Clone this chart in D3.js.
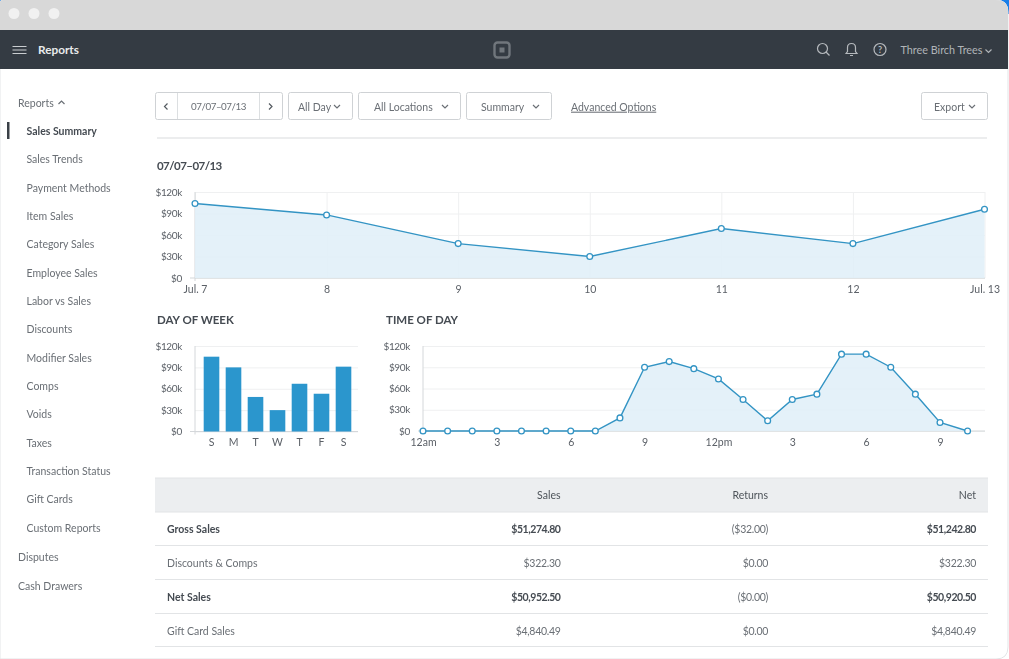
<!DOCTYPE html>
<html>
<head>
<meta charset="utf-8">
<script src="https://cdn.jsdelivr.net/npm/d3@7"></script>
<style>
  html, body { margin: 0; padding: 0; background: #fff; overflow: hidden; }
  svg { display: block; filter: blur(0.3px); }
  text { font-family: Lato, "Open Sans", sans-serif; }
  .axis text { font-size: 10.5px; fill: #5b6067; }
  .axis.y text { font-size: 10px; letter-spacing: -0.35px; }
  .axis .domain { display: none; }
</style>
</head>
<body>
<div class="page"></div>
<script>
const WIDTH = 1009;
const HEIGHT = 659;

const LINE_COLOR = '#3394c4';
const AREA_COLOR = '#e2f0f8';
const BAR_COLOR = '#2b96cd';
const GRID_COLOR = '#eff0f1';
const BASE_COLOR = '#d4d7da';
const TEXT_DARK = '#454b52';
const TEXT_MID = '#6a6f75';

// chart data, in thousands of dollars
var moneyTicks = [0, 30, 60, 90, 120];
var weekDays = ['Jul. 7', '8', '9', '10', '11', '12', 'Jul. 13'];
var weekSales = [104, 88, 48, 30, 69, 48, 96];
var dayNames = ['S', 'M', 'T', 'W', 'T', 'F', 'S'];
var daySales = [105, 90, 48.5, 30, 67, 53, 91];
var hours = [0, 1, 2, 3, 4, 5, 6, 7, 8, 9, 10, 11, 12, 13, 14, 15, 16, 17, 18, 19, 20, 21, 22.12];
var hourSales = [0, 0, 0, 0, 0, 0, 0, 0, 18.5, 90, 98, 88, 73.5, 44.5, 14.5, 44.5, 52, 108.5, 108.5, 90, 52, 12, 0];
var hourTicks = [0, 3, 6, 9, 12, 15, 18, 21];
var hourLabels = ['12am', '3', '6', '9', '12pm', '3', '6', '9'];

// table and menu text
var tableColumns = ['Sales', 'Returns', 'Net'];
var rowNames = ['Gross Sales', 'Discounts & Comps', 'Net Sales', 'Gift Card Sales'];
var rowBold = [true, false, true, false];
var salesCol = ['$51,274.80', '$322.30', '$50,952.50', '$4,840.49'];
var returnsCol = ['($32.00)', '$0.00', '($0.00)', '$0.00'];
var netCol = ['$51,242.80', '$322.30', '$50,920.50', '$4,840.49'];
var subMenu = ['Sales Summary', 'Sales Trends', 'Payment Methods', 'Item Sales', 'Category Sales', 'Employee Sales',
    'Labor vs Sales', 'Discounts', 'Modifier Sales', 'Comps', 'Voids', 'Taxes', 'Transaction Status', 'Gift Cards', 'Custom Reports'];

var svg = d3.select('.page').append('svg').attr('width', WIDTH).attr('height', HEIGHT);

function label(x, y, str, opts) {
    opts = opts || {};
    return svg.append('text')
        .attr('x', x).attr('y', y)
        .attr('dy', '0.35em')
        .attr('text-anchor', opts.anchor || 'start')
        .attr('font-size', opts.size || 10.5)
        .attr('font-weight', opts.weight || 400)
        .attr('fill', opts.color || TEXT_MID)
        .attr('letter-spacing', opts.spacing || null)
        .attr('text-decoration', opts.deco || null)
        .text(str);
}

function chevron(x, y, color, up) {
    var d = up ? 'M-3,1.5 L0,-1.5 L3,1.5' : 'M-3,-1.5 L0,1.5 L3,-1.5';
    svg.append('path').attr('transform', 'translate(' + x + ',' + y + ')').attr('d', d)
        .attr('fill', 'none').attr('stroke', color).attr('stroke-width', 1.2);
}

function drawWindow() {
    svg.append('rect').attr('x', 992).attr('y', 0).attr('width', 17).attr('height', 14).attr('fill', '#1a7fe8');
    svg.append('rect').attr('x', 0).attr('y', 0).attr('width', 3).attr('height', 3).attr('fill', '#1a7fe8');
    var frame = 'M0,3 Q0,0 3,0 L996,0 Q1008,0 1008,12 L1008,647 Q1008,659 996,659 L0,659 Z';
    svg.append('path').attr('d', frame).attr('fill', '#fff').attr('stroke', '#e3e5e7');
    var bar = 'M0,3 Q0,0 3,0 L996,0 Q1008,0 1008,12 L1008,30 L0,30 Z';
    svg.append('path').attr('d', bar).attr('fill', '#d8d8d8');
    svg.selectAll('.dot').data([14, 34, 54]).enter().append('circle')
        .attr('cx', function (d) { return d; })
        .attr('cy', 13.5).attr('r', 5.5).attr('fill', '#f1f1f1');
    svg.append('rect').attr('x', 0).attr('y', 30).attr('width', 1008).attr('height', 39).attr('fill', '#343b43');
}

function drawNav() {
    svg.selectAll('.burger').data([46.5, 50, 53.5]).enter().append('line')
        .attr('x1', 12.5).attr('x2', 26.5)
        .attr('y1', function (d) { return d; }).attr('y2', function (d) { return d; })
        .attr('stroke', '#c9cdd0').attr('stroke-width', 1);
    label(38, 50, 'Reports', { size: 11.8, color: '#e9ebec', weight: 700 });

    svg.append('rect').attr('x', 494.5).attr('y', 42.5).attr('width', 15).attr('height', 15).attr('rx', 3)
        .attr('fill', 'none').attr('stroke', '#70767c').attr('stroke-width', 2.4);
    svg.append('rect').attr('x', 499.5).attr('y', 47.5).attr('width', 5).attr('height', 5).attr('fill', '#70767c');

    var ico = '#b5b9bd';
    svg.append('circle').attr('cx', 822.5).attr('cy', 48.5).attr('r', 5).attr('fill', 'none').attr('stroke', ico).attr('stroke-width', 1.2);
    svg.append('line').attr('x1', 826).attr('y1', 52).attr('x2', 829.5).attr('y2', 55.5).attr('stroke', ico).attr('stroke-width', 1.2);
    svg.append('path').attr('d', 'M846,53.5 L847.5,51.5 L847.5,47.5 Q847.5,43.5 851.5,43.5 Q855.5,43.5 855.5,47.5 L855.5,51.5 L857,53.5 Z M850,55.5 L853,55.5')
        .attr('fill', 'none').attr('stroke', ico).attr('stroke-width', 1.2);
    svg.append('circle').attr('cx', 880).attr('cy', 49.5).attr('r', 6).attr('fill', 'none').attr('stroke', ico).attr('stroke-width', 1.2);
    label(880, 49.5, '?', { anchor: 'middle', size: 9, color: ico, weight: 700 });
    label(900.5, 50.5, 'Three Birch Trees', { size: 10.8, color: '#b0b4b8' });
    chevron(988.5, 51, '#b0b4b8');
}

function drawSidebar() {
    label(18, 103.5, 'Reports', { color: TEXT_MID });
    chevron(61.5, 102.5, TEXT_MID, true);
    svg.append('rect').attr('x', 7).attr('y', 122).attr('width', 2.5).attr('height', 17).attr('fill', '#3a4047');

    var menuY = d3.scaleLinear().domain([0, 14]).range([131.5, 528]);
    subMenu.forEach(function (name, i) {
        label(26.5, menuY(i), name, { color: i === 0 ? TEXT_DARK : TEXT_MID, weight: i === 0 ? 700 : 400 });
    });
    label(18, 557.5, 'Disputes');
    label(18, 586, 'Cash Drawers');
}

function button(x0, x1) {
    svg.append('rect').attr('x', x0 + 0.5).attr('y', 92.5).attr('width', x1 - x0).attr('height', 27).attr('rx', 2)
        .attr('fill', '#fff').attr('stroke', '#cfd2d5');
}

function drawToolbar() {
    button(155, 282);
    [177.5, 259.5].forEach(function (x) {
        svg.append('line').attr('x1', x).attr('x2', x).attr('y1', 93).attr('y2', 119).attr('stroke', '#dcdfe1');
    });
    svg.append('path').attr('d', 'M167.5,103.5 L164.5,106.5 L167.5,109.5 M269,103.5 L272,106.5 L269,109.5')
        .attr('fill', 'none').attr('stroke', '#555b61').attr('stroke-width', 1.2);
    label(218.5, 107, '07/07–07/13', { anchor: 'middle', size: 9.8, spacing: -0.45 });

    button(288, 352);
    label(298, 107, 'All Day');
    chevron(337, 106.5, TEXT_MID);
    button(358, 460);
    label(374, 107, 'All Locations');
    chevron(445, 106.5, TEXT_MID);
    button(466, 551);
    label(481, 107, 'Summary');
    chevron(536, 106.5, TEXT_MID);
    label(571, 107, 'Advanced Options', { deco: 'underline' });
    button(921, 987);
    label(934, 107, 'Export');
    chevron(972, 106.5, TEXT_MID);

    svg.append('line').attr('x1', 157).attr('x2', 987).attr('y1', 138).attr('y2', 138).attr('stroke', '#d9dbdd');
    label(157, 166, '07/07–07/13', { size: 11.5, weight: 700, color: TEXT_DARK, spacing: -0.55 });
    label(157, 319.5, 'DAY OF WEEK', { size: 11.5, weight: 700, color: TEXT_DARK });
    label(386, 319.5, 'TIME OF DAY', { size: 11.5, weight: 700, color: TEXT_DARK });
}

function drawFrame(xScale, yScale, gridLeft, gridRight, xAxis, bottom) {
    var yAxisG = svg.append('g').attr('class', 'axis y').attr('transform', 'translate(' + gridLeft + ',0)')
        .call(d3.axisLeft(yScale).tickValues(moneyTicks).tickSize(0).tickPadding(13)
            .tickFormat(function (d) { return '$' + (d === 0 ? '0' : d + 'k'); }));
    yAxisG.selectAll('.tick line').attr('x1', 0).attr('x2', gridRight - gridLeft).attr('stroke', GRID_COLOR);
    var xAxisG = svg.append('g').attr('class', 'axis x').attr('transform', 'translate(0,' + bottom + ')').call(xAxis);
    xAxisG.selectAll('text').attr('dy', 0).attr('y', 14.5);
    // light axis lines over the grid
    svg.append('line').attr('x1', gridLeft - 5).attr('x2', gridRight).attr('y1', bottom).attr('y2', bottom)
        .attr('stroke', BASE_COLOR).attr('stroke-width', 1.2);
    svg.append('line').attr('x1', gridLeft).attr('x2', gridLeft).attr('y1', yScale(120)).attr('y2', bottom + 3)
        .attr('stroke', BASE_COLOR);
    return xAxisG;
}

function drawLineChart(keys, values, x, y, bottom) {
    var pts = d3.zip(keys, values);
    var area = d3.area().x(function (d) { return x(d[0]); }).y0(bottom).y1(function (d) { return y(d[1]); });
    var line = d3.line().x(function (d) { return x(d[0]); }).y(function (d) { return y(d[1]); });
    var g = svg.append('g');
    g.append('path').attr('d', area(pts)).attr('fill', AREA_COLOR).attr('fill-opacity', 0.92);
    g.append('path').attr('d', line(pts)).attr('fill', 'none').attr('stroke', LINE_COLOR).attr('stroke-width', 1.4);
    g.selectAll('circle').data(pts).enter().append('circle')
        .attr('cx', function (d) { return x(d[0]); })
        .attr('cy', function (d) { return y(d[1]); })
        .attr('r', 2.9).attr('fill', '#fff').attr('stroke', LINE_COLOR).attr('stroke-width', 1.3);
}

function drawWeekChart() {
    var x = d3.scalePoint().domain(d3.range(weekDays.length)).range([195, 984.5]);
    var y = d3.scaleLinear().domain([0, 120]).range([278, 192]);
    var xAxis = d3.axisBottom(x).tickSize(0).tickFormat(function (d) { return weekDays[d]; });
    var xG = drawFrame(x, y, 195, 985, xAxis, 278);
    xG.selectAll('.tick line').attr('y1', -86).attr('y2', 0).attr('stroke', GRID_COLOR);
    drawLineChart(d3.range(weekDays.length), weekSales, x, y, 278);
}

function drawDayChart() {
    var x = d3.scaleBand().domain(d3.range(dayNames.length)).range([200.5, 354.5]).paddingInner(0.29).paddingOuter(0.145);
    var y = d3.scaleLinear().domain([0, 120]).range([431.5, 346]);
    var xAxis = d3.axisBottom(x).tickSize(0).tickFormat(function (d) { return dayNames[d]; });
    drawFrame(x, y, 195, 358, xAxis, 431.5);
    svg.append('g').selectAll('rect').data(daySales).enter().append('rect')
        .attr('x', function (d, i) { return x(i); })
        .attr('y', function (d) { return y(d); })
        .attr('width', x.bandwidth())
        .attr('height', function (d) { return y(0) - y(d); })
        .attr('fill', BAR_COLOR);
}

function drawHourChart() {
    var x = d3.scaleLinear().domain([0, 21]).range([423, 940]);
    var y = d3.scaleLinear().domain([0, 120]).range([431, 346]);
    var xAxis = d3.axisBottom(x).tickValues(hourTicks).tickSize(0)
        .tickFormat(function (d, i) { return hourLabels[i]; });
    drawFrame(x, y, 423, 985, xAxis, 431);
    drawLineChart(hours, hourSales, x, y, 431);
}

function drawTable() {
    var colRight = [560.5, 768, 976];
    var rowY = d3.scaleLinear().domain([0, 3]).range([529, 631]);
    svg.append('rect').attr('x', 155).attr('y', 478).attr('width', 833).attr('height', 34).attr('fill', '#eceef0');
    [478, 512, 545.5, 579.5, 613.5, 646.5].forEach(function (y) {
        svg.append('line').attr('x1', 155).attr('x2', 988).attr('y1', y).attr('y2', y).attr('stroke', '#e2e4e6');
    });
    tableColumns.forEach(function (name, i) {
        label(colRight[i], 495.5, name, { anchor: 'end', color: '#4d5359' });
    });
    rowNames.forEach(function (name, i) {
        var bold = rowBold[i];
        var y = rowY(i);
        var numSpacing = bold ? -0.45 : -0.3;
        label(167, y, name, { weight: bold ? 700 : 400, color: bold ? TEXT_DARK : TEXT_MID });
        label(colRight[0], y, salesCol[i], { anchor: 'end', weight: bold ? 700 : 400, color: bold ? TEXT_DARK : TEXT_MID, spacing: numSpacing });
        label(colRight[1], y, returnsCol[i], { anchor: 'end', color: TEXT_MID, spacing: -0.3 });
        label(colRight[2], y, netCol[i], { anchor: 'end', weight: bold ? 700 : 400, color: bold ? TEXT_DARK : TEXT_MID, spacing: numSpacing });
    });
}

drawWindow();
drawNav();
drawSidebar();
drawToolbar();
drawWeekChart();
drawDayChart();
drawHourChart();
drawTable();
</script>
</body>
</html>
